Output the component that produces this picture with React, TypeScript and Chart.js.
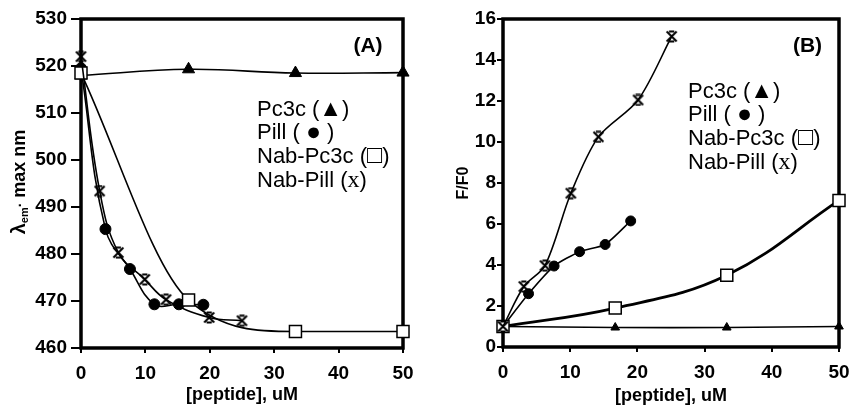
import React, { useEffect, useRef } from "react";
import { Chart, registerables } from "chart.js";

Chart.register(...registerables);

// ---------- Data ----------
const xTickLabels = [0, 10, 20, 30, 40, 50];
const yTickLabelsA = [460, 470, 480, 490, 500, 510, 520, 530];
const yTickLabelsB = [0, 2, 4, 6, 8, 10, 12, 14, 16];

// Panel A: emission maximum (nm)
const pc3cA_x = [0, 16.7, 33.3, 50];
const pc3cA_y = [518, 519.3, 518.5, 518.6];
const pillA_x = [0, 3.8, 7.6, 11.4, 15.2, 19];
const pillA_y = [519.5, 485.3, 476.8, 469.3, 469.3, 469.2];
const nabPc3cA_x = [0, 16.7, 33.3, 50];
const nabPc3cA_y = [518.5, 470.2, 463.5, 463.5];
const nabPillA_x = [0, 2.9, 5.8, 9.9, 13.2, 19.9, 25];
const nabPillA_y = [522, 493.4, 480.3, 474.6, 470.3, 466.5, 465.8];

// Panel B: F/F0
const pc3cB_x = [0, 16.7, 33.3, 50];
const pc3cB_y = [1, 0.95, 0.95, 1.0];
const pillB_x = [0, 3.8, 7.6, 11.4, 15.2, 19];
const pillB_y = [1, 2.6, 3.95, 4.65, 5.0, 6.15];
const nabPc3cB_x = [0, 16.7, 33.3, 50];
const nabPc3cB_y = [1, 1.9, 3.5, 7.15];
const nabPillB_x = [0, 3.1, 6.25, 10.1, 14.2, 20.1, 25.1];
const nabPillB_y = [1, 2.95, 3.97, 7.5, 10.25, 12.05, 15.15];

const seriesNames = ["Pc3c", "Pill", "Nab-Pc3c", "Nab-Pill"];
const xTitle = "[peptide], uM";

// ---------- Styling ----------
const SANS = "'Liberation Sans', Arial, sans-serif";
const SERIF = "'Liberation Serif', 'Times New Roman', serif";
const tickFont = { family: SANS, size: 19, weight: "bold" as const };
const LEG = `22px ${SANS}`;

function makeXMarker(size: number, lw: number) {
  const c = document.createElement("canvas");
  c.width = size;
  c.height = size;
  const g = c.getContext("2d")!;
  g.strokeStyle = "#000";
  g.lineWidth = lw;
  const p = lw / 2 + 0.5;
  const q = size - p;
  g.beginPath();
  g.moveTo(p, p);
  g.lineTo(q, q);
  g.moveTo(q, p);
  g.lineTo(p, q);
  const b = size * 0.3;
  g.moveTo(b, p);
  g.lineTo(size - b, p);
  g.moveTo(b, q);
  g.lineTo(size - b, q);
  g.stroke();
  return c;
}

function pts(xs: number[], ys: number[]) {
  return xs.map((x, i) => ({ x, y: ys[i] }));
}

type Seg = { t: string; f: string; dy?: number };

function drawSegs(ctx: CanvasRenderingContext2D, x: number, y: number, segs: Seg[]) {
  let cx = x;
  for (const s of segs) {
    ctx.font = s.f;
    ctx.fillText(s.t, cx, y + (s.dy || 0));
    cx += ctx.measureText(s.t).width;
  }
}

function segWidth(ctx: CanvasRenderingContext2D, segs: Seg[]) {
  let w = 0;
  for (const s of segs) {
    ctx.font = s.f;
    w += ctx.measureText(s.t).width;
  }
  return w;
}

const legendLines: Seg[][] = [
  [{ t: seriesNames[0] + " (", f: LEG }, { t: "▲", f: `23px ${SANS}` }, { t: ")", f: LEG }],
  [{ t: seriesNames[1] + " ( ", f: LEG }, { t: "●", f: `25px ${SANS}`, dy: 1 }, { t: " )", f: LEG }],
  [{ t: seriesNames[2] + " (", f: LEG }, { t: "□", f: `25px ${SANS}` }, { t: ")", f: LEG }],
  [{ t: seriesNames[3] + " (", f: LEG }, { t: "x", f: `24px ${SERIF}` }, { t: ")", f: LEG }],
];

type PanelCfg = {
  tag: string;
  tagX: number;
  tagY: number;
  legX: number;
  legY0: number;
  yTitle: Seg[];
  yTitleX: number;
  yTitleY: number;
  xTitleY: number;
};

function makePlugin(cfg: PanelCfg) {
  return {
    id: "decor",
    beforeDatasetsDraw(chart: any) {
      const { ctx, chartArea: a } = chart;
      ctx.save();
      ctx.strokeStyle = "#000";
      ctx.lineWidth = 3.5;
      ctx.strokeRect(a.left, a.top, a.right - a.left, a.bottom - a.top);
      ctx.restore();
    },
    afterDraw(chart: any) {
      const { ctx, chartArea: a } = chart;
      ctx.save();
      ctx.fillStyle = "#000";
      // panel tag
      ctx.font = `bold 21px ${SANS}`;
      ctx.textAlign = "center";
      ctx.textBaseline = "middle";
      ctx.fillText(cfg.tag, cfg.tagX, cfg.tagY);
      // legend text
      ctx.textAlign = "left";
      ctx.textBaseline = "alphabetic";
      legendLines.forEach((line, i) => drawSegs(ctx, cfg.legX, cfg.legY0 + i * 23.7, line));
      // x title
      ctx.font = `bold 18px ${SANS}`;
      ctx.textAlign = "center";
      ctx.fillText(xTitle, (a.left + a.right) / 2, cfg.xTitleY);
      // y title (rotated)
      ctx.textAlign = "left";
      const w = segWidth(ctx, cfg.yTitle);
      ctx.translate(cfg.yTitleX, cfg.yTitleY);
      ctx.rotate(-Math.PI / 2);
      drawSegs(ctx, -w / 2, 0, cfg.yTitle);
      ctx.restore();
    },
  };
}

function buildChart(
  canvas: HTMLCanvasElement,
  datasets: any[],
  yMin: number,
  yMax: number,
  yTicks: number[],
  padding: any,
  yWidth: number,
  xHeight: number,
  yTickLen: number,
  yPad: number,
  cfg: PanelCfg
) {
  return new Chart(canvas, {
    type: "line",
    data: { datasets },
    options: {
      responsive: false,
      animation: false,
      devicePixelRatio: 1,
      layout: { padding },
      plugins: { legend: { display: false }, tooltip: { enabled: false } },
      scales: {
        x: {
          type: "linear",
          min: 0,
          max: 50,
          afterBuildTicks: (s: any) => {
            s.ticks = xTickLabels.map((v) => ({ value: v }));
          },
          afterFit: (s: any) => {
            s.height = xHeight;
            s.paddingLeft = 0;
            s.paddingRight = 0;
          },
          grid: { drawOnChartArea: false, drawTicks: true, tickLength: 5, color: "#000", lineWidth: 2 },
          border: { display: false },
          ticks: { font: tickFont, color: "#000", padding: 9, maxRotation: 0, autoSkip: false },
        },
        y: {
          type: "linear",
          min: yMin,
          max: yMax,
          afterBuildTicks: (s: any) => {
            s.ticks = yTicks.map((v) => ({ value: v }));
          },
          afterFit: (s: any) => {
            s.width = yWidth;
            s.paddingTop = 0;
            s.paddingBottom = 0;
          },
          grid: { drawOnChartArea: false, drawTicks: true, tickLength: yTickLen, color: "#000", lineWidth: 2 },
          border: { display: false },
          ticks: { font: tickFont, color: "#000", padding: yPad, autoSkip: false },
        },
      },
    },
    plugins: [makePlugin(cfg)],
  } as any);
}

export default function App() {
  const refA = useRef<HTMLCanvasElement>(null);
  const refB = useRef<HTMLCanvasElement>(null);

  useEffect(() => {
    const xA = makeXMarker(13, 2);
    const xB = makeXMarker(13, 2);
    const base = { borderColor: "#000", fill: false, clip: false, pointBorderColor: "#000" };

    const dsA = [
      { ...base, label: seriesNames[3], data: pts(nabPillA_x, nabPillA_y), borderWidth: 1.6, tension: 0.4, pointStyle: xA, pointRadius: 6 },
      { ...base, label: seriesNames[2], data: pts(nabPc3cA_x, nabPc3cA_y), borderWidth: 1.6, cubicInterpolationMode: "monotone", pointStyle: "rect", pointRadius: 8.5, pointBackgroundColor: "#fff", pointBorderWidth: 1.5 },
      { ...base, label: seriesNames[1], data: pts(pillA_x, pillA_y), borderWidth: 1.6, tension: 0.4, pointStyle: "circle", pointRadius: 5.5, pointBackgroundColor: "#000", pointBorderWidth: 1 },
      { ...base, label: seriesNames[0], data: pts(pc3cA_x, pc3cA_y), borderWidth: 1.6, tension: 0.4, pointStyle: "triangle", pointRadius: 7, pointBackgroundColor: "#000", pointBorderWidth: 1 },
    ];
    const dsB = [
      { ...base, label: seriesNames[3], data: pts(nabPillB_x, nabPillB_y), borderWidth: 1.6, tension: 0.3, pointStyle: xB, pointRadius: 6 },
      { ...base, label: seriesNames[2], data: pts(nabPc3cB_x, nabPc3cB_y), borderWidth: 2.8, tension: 0.4, pointStyle: "rect", pointRadius: 8.5, pointBackgroundColor: "#fff", pointBorderWidth: 1.5 },
      { ...base, label: seriesNames[1], data: pts(pillB_x, pillB_y), borderWidth: 1.6, tension: 0.2, pointStyle: "circle", pointRadius: 5, pointBackgroundColor: "#000", pointBorderWidth: 1 },
      { ...base, label: seriesNames[0], data: pts(pc3cB_x, pc3cB_y), borderWidth: 1.6, tension: 0.3, pointStyle: "triangle", pointRadius: 5, pointBackgroundColor: "#000", pointBorderWidth: 1 },
    ];

    const chartA = buildChart(
      refA.current!,
      dsA,
      460,
      530,
      yTickLabelsA,
      { top: 19, right: 27, left: 0, bottom: 0 },
      81,
      61,
      10,
      4,
      {
        tag: "(A)",
        tagX: 368,
        tagY: 46,
        legX: 257,
        legY0: 115.5,
        yTitle: [
          { t: "λ", f: `bold 20px ${SANS}` },
          { t: "em", f: `bold 11px ${SANS}`, dy: 3 },
          { t: "·", f: `bold 14px ${SANS}` },
          { t: " max nm", f: `bold 18px ${SANS}` },
        ],
        yTitleX: 25,
        yTitleY: 182,
        xTitleY: 400,
      }
    );
    const chartB = buildChart(
      refB.current!,
      dsB,
      0,
      16,
      yTickLabelsB,
      { top: 19, right: 12, left: 0, bottom: 0 },
      73,
      62,
      6,
      1,
      {
        tag: "(B)",
        tagX: 807.5 - 430,
        tagY: 46,
        legX: 688 - 430,
        legY0: 97.5,
        yTitle: [{ t: "F/F0", f: `bold 16px ${SANS}` }],
        yTitleX: 38,
        yTitleY: 183,
        xTitleY: 401,
      }
    );
    return () => {
      chartA.destroy();
      chartB.destroy();
    };
  }, []);

  return (
    <div style={{ position: "absolute", left: 0, top: 0, width: 851, height: 409, background: "#fff" }}>
      <canvas ref={refA} width={430} height={409} style={{ position: "absolute", left: 0, top: 0, width: 430, height: 409 }} />
      <canvas ref={refB} width={421} height={409} style={{ position: "absolute", left: 430, top: 0, width: 421, height: 409 }} />
    </div>
  );
}
